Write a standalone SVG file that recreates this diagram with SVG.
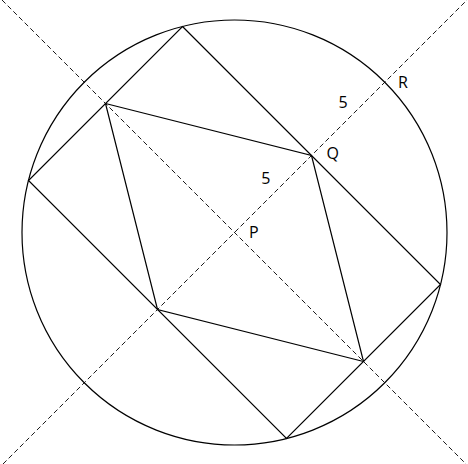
<svg xmlns="http://www.w3.org/2000/svg" width="468" height="464" viewBox="0 0 468 464">
<style>
.s{fill:none;stroke:#000;stroke-width:1.2;stroke-linejoin:miter}
.d{fill:none;stroke:#000;stroke-width:0.9;stroke-dasharray:5 3}
.t{font-family:"Open Sans","Noto Sans",sans-serif;font-size:16px;fill:#000}
</style>
<rect width="468" height="464" fill="#fff"/>
<g id="circle"><circle class="s" cx="234.5" cy="232.5" r="212.5"/></g>
<g id="outer-rect"><polygon class="s" points="182.5,26.5 440.5,284.5 286.5,438.5 28.5,180.5"/></g>
<g id="inner-quad"><polygon class="s" points="105.5,103.5 311.5,155.5 363.5,361.5 157.5,309.5"/></g>
<g id="connectors">
<line class="d" x1="2" y1="0" x2="466" y2="464"/>
<line class="d" x1="3" y1="464" x2="467" y2="0"/>
</g>
<g id="labels">
<text class="t" x="398" y="88">R</text>
<text class="t" x="338.5" y="108">5</text>
<text class="t" x="326.5" y="158.5">Q</text>
<text class="t" x="261.2" y="184">5</text>
<text class="t" x="249" y="237.5">P</text>
</g>
</svg>
